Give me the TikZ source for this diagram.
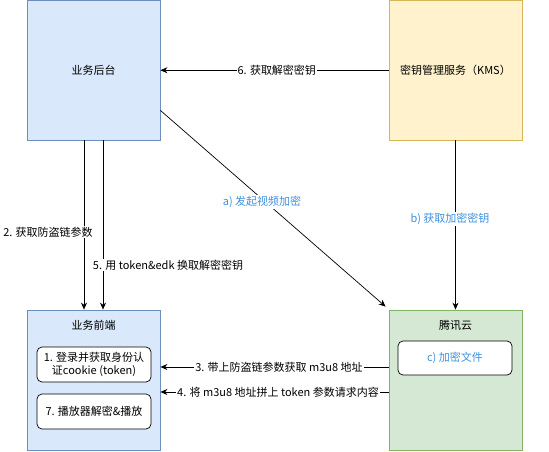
\documentclass[tikz,border=0pt]{standalone}
\usepackage{fontspec}
\setmainfont{Noto Sans CJK SC}
\usetikzlibrary{arrows.meta,calc}
\definecolor{bfill}{HTML}{DAE8FC}
\definecolor{bline}{HTML}{6C8EBF}
\definecolor{yfill}{HTML}{FFF2CC}
\definecolor{yline}{HTML}{D6B656}
\definecolor{gfill}{HTML}{D5E8D4}
\definecolor{gline}{HTML}{82B366}
\definecolor{btext}{HTML}{4091DE}
\begin{document}
\begin{tikzpicture}[x=1pt,y=-1pt,
  font=\fontsize{11pt}{13pt}\selectfont,
  bigbox/.style={draw, line width=0.8pt, minimum width=133pt, inner sep=0pt, anchor=center},
  inbox/.style={draw, fill=white, rounded corners=5pt, minimum width=114pt, minimum height=35pt, inner sep=1pt, align=center, line width=0.7pt},
  conn/.style={-{Stealth[length=7pt,width=6pt]}, line width=0.7pt},
  lab/.style={fill=white, inner sep=1pt},
  bluelab/.style={lab, text=btext}]
\useasboundingbox (0,0) rectangle (549,451);
\clip (0,0) rectangle (549,451);
\node[bigbox, fill=bfill, draw=bline, minimum height=139.5pt] (hq) at (93.5,70.25) {业务后台};
\node[bigbox, fill=yfill, draw=yline, minimum height=139.5pt] (kms) at (455.5,70.25) {密钥管理服务（KMS）};
\node[bigbox, fill=bfill, draw=bline, minimum height=140.5pt] (fe) at (93.5,380.25) {};
\node[bigbox, fill=gfill, draw=gline, minimum height=140.5pt] (tc) at (455.5,380.25) {};
\node (fetitle) at (93.5,325) {业务前端};
\node (tctitle) at (455.5,325) {腾讯云};
\node[inbox] (b1) at (94,364.5) {1. 登录并获取身份认\\证cookie (token)};
\node[inbox] (b7) at (94,411.5) {7. 播放器解密\&播放};
\node[inbox, minimum height=34pt, text=btext] (bc) at (455,358) {c) 加密文件};
% connectors
\draw[conn] (kms.west) -- (hq.east) node[lab, pos=0.49] {6. 获取解密密钥};
\draw[conn] ($(hq.south)+(-9.5,0)$) coordinate (s2) -- (s2 |- fe.north);
\draw[conn] ($(hq.south)+(9.5,0)$) coordinate (s5) -- (s5 |- fe.north);
\node[lab] (l2) at (48,232) {2. 获取防盗链参数};
\node[lab] (l5) at (168,265) {5. 用 token\&edk 换取解密密钥};
\draw[conn] ($(hq.south east)+(0,-30)$) -- ($(tc.north west)+(-3,-3)$);
\node[bluelab] (la) at (262,202) {a) 发起视频加密};
\draw[conn] (kms.south) -- (tc.north);
\node[bluelab] (lb) at (450,219) {b) 获取加密密钥};
\draw[conn] (tc.west |- 0,367) coordinate (s3) -- (s3 -| fe.east);
\node[lab] (l3) at (279,367) {3. 带上防盗链参数获取 m3u8 地址};
\draw[conn] (tc.west |- 0,392) coordinate (s4) -- (s4 -| fe.east);
\node[lab] (l4) at (278,392) {4. 将 m3u8 地址拼上 token 参数请求内容};
\end{tikzpicture}
\end{document}
